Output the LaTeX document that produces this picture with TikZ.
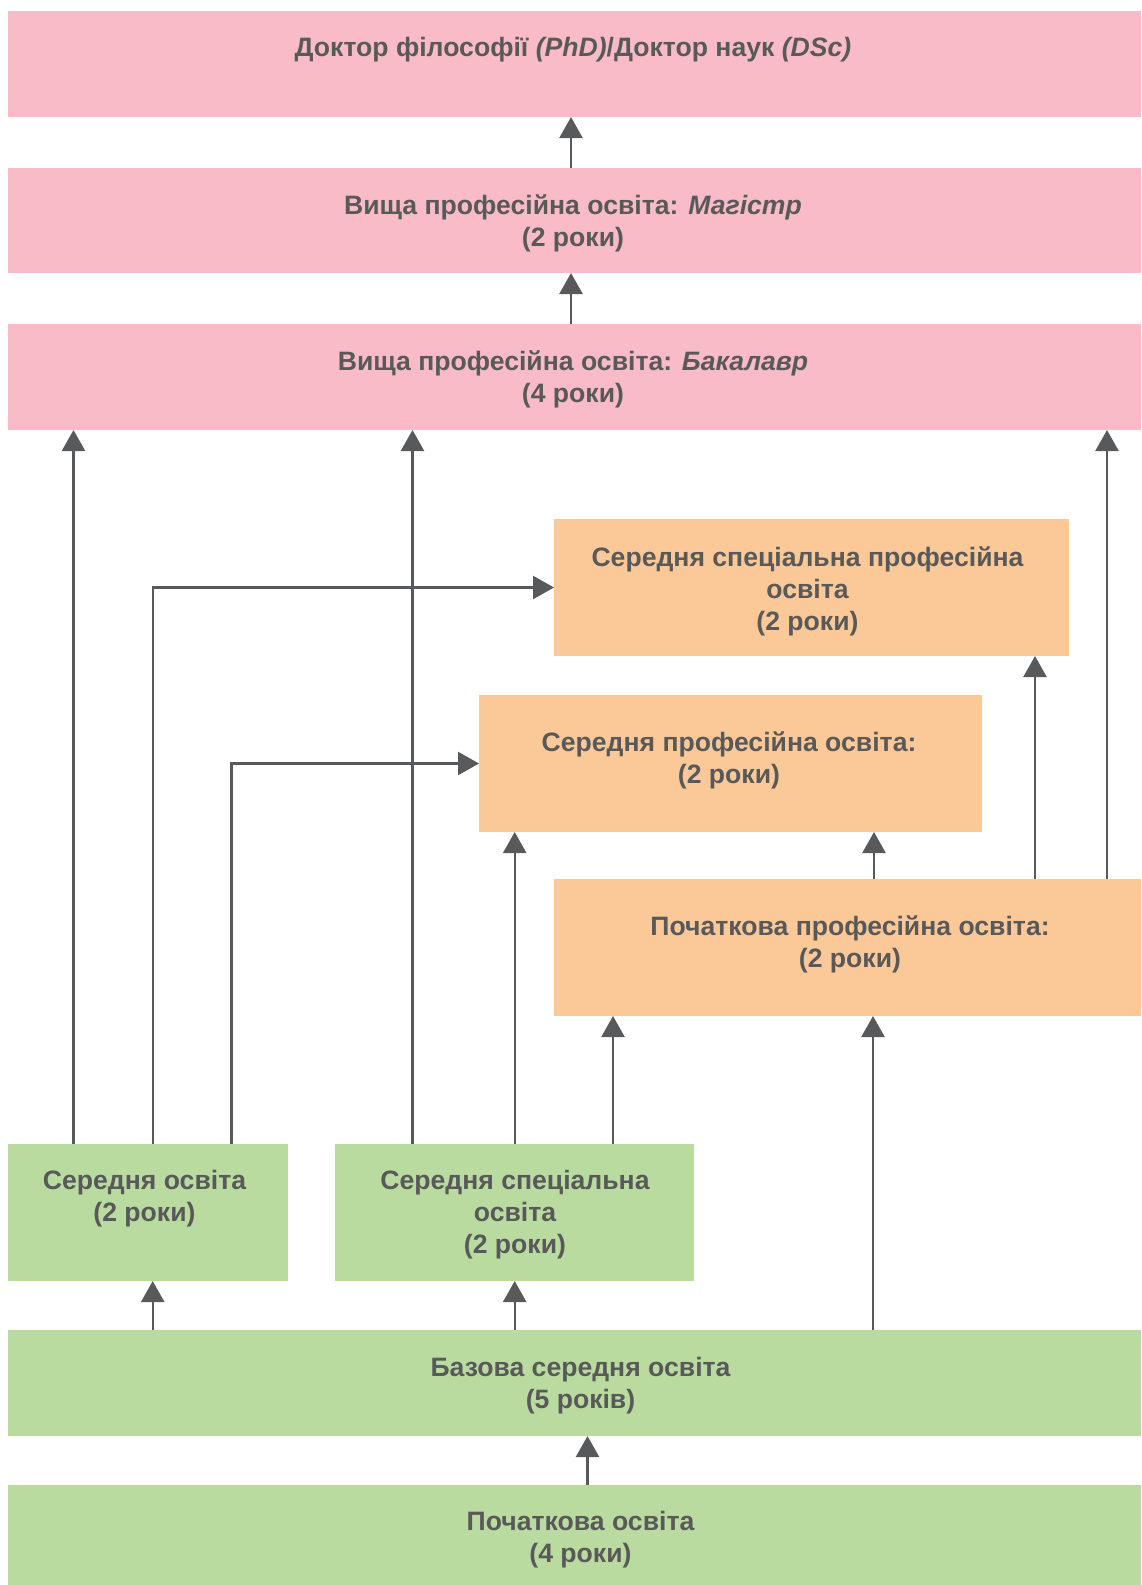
\documentclass[tikz,border=0pt]{standalone}
\usepackage{fontspec}
\setmainfont{Liberation Sans}
\usepackage{tikz}
\usetikzlibrary{arrows.meta,positioning}
\definecolor{rozh}{HTML}{F8BBC7}
\definecolor{pomar}{HTML}{FBC898}
\definecolor{zelen}{HTML}{B9DBA0}
\definecolor{siryi}{HTML}{58595B}
\definecolor{tekst}{HTML}{595959}
\tikzset{
  box/.style={anchor=north west,inner sep=0pt,outer sep=0pt},
  pinkbox/.style={box,fill=rozh},
  orangebox/.style={box,fill=pomar},
  greenbox/.style={box,fill=zelen},
  txt/.style={align=center,text=tekst,font=\fontsize{26.6}{31.8}\selectfont\bfseries},
  conn/.style={draw=siryi,line width=2.4pt,-{Triangle[length=21pt,width=23pt]}}
}
\begin{document}
\begin{tikzpicture}[x=1pt,y=-1pt]
\useasboundingbox (0,0) rectangle (1141,1585);

% higher education
\node[pinkbox,minimum width=1133pt,minimum height=106pt] (phd) at (8,11) {};
\node[pinkbox,minimum width=1133pt,minimum height=105pt] (mag) at (8,168) {};
\node[pinkbox,minimum width=1133pt,minimum height=106pt] (bach) at (8,324) {};
% vocational
\node[orangebox,minimum width=515pt,minimum height=137pt] (ssspo) at (554,519) {};
\node[orangebox,minimum width=503pt,minimum height=137pt] (spo) at (479,695) {};
\node[orangebox,minimum width=587pt,minimum height=137pt] (ppo) at (554,879) {};
% school
\node[greenbox,minimum width=280pt,minimum height=137pt] (sered) at (8,1144) {};
\node[greenbox,minimum width=359pt,minimum height=137pt] (sso) at (335,1144) {};
\node[greenbox,minimum width=1133pt,minimum height=106pt] (baz) at (8,1330) {};
\node[greenbox,minimum width=1133pt,minimum height=102pt] (poch) at (8,1485) {};

\node[txt] (phdt) at (573,50) {Доктор філософії \textit{(PhD)}/Доктор наук \textit{(DSc)}};
\node[txt] (magt) at (573,223) {Вища професійна освіта: \textit{Магістр}\\(2 роки)};
\node[txt] (bacht) at (573,379.5) {Вища професійна освіта: \textit{Бакалавр}\\(4 роки)};
\node[txt] (ssspot) at (807.5,591.5) {Середня спеціальна професійна\\освіта\\(2 роки)};
\node[txt] (spot) at (729,760.5) {Середня професійна освіта:\\(2 роки)};
\node[txt] (ppot) at (850,944.5) {Початкова професійна освіта:\\(2 роки)};
\node[txt] (seredt) at (144.5,1198.5) {Середня освіта\\(2 роки)};
\node[txt] (ssot) at (515,1214.5) {Середня спеціальна\\освіта\\(2 роки)};
\node[txt] (bazt) at (580.5,1386) {Базова середня освіта\\(5 років)};
\node[txt] (pocht) at (580.5,1539.5) {Початкова освіта\\(4 роки)};

% arrow feet
\coordinate (m1) at ([xshift=563pt]mag.north west);
\coordinate (b1) at ([xshift=563pt]bach.north west);
\coordinate (s1) at ([xshift=65.5pt]sered.north west);
\coordinate (s2) at ([xshift=145pt]sered.north west);
\coordinate (s3) at ([xshift=223.5pt]sered.north west);
\coordinate (o1) at ([xshift=77.5pt]sso.north west);
\coordinate (o2) at ([xshift=179.7pt]sso.north west);
\coordinate (o3) at ([xshift=278pt]sso.north west);
\coordinate (p1) at ([xshift=320pt]ppo.north west);
\coordinate (p2) at ([xshift=481pt]ppo.north west);
\coordinate (p3) at ([xshift=553pt]ppo.north west);
\coordinate (z1) at ([xshift=144.7pt]baz.north west);
\coordinate (z2) at ([xshift=506.7pt]baz.north west);
\coordinate (z3) at ([xshift=865pt]baz.north west);
\coordinate (c1) at ([xshift=579.5pt]poch.north west);

\draw[conn] (m1) -- (m1 |- phd.south);
\draw[conn] (b1) -- (b1 |- mag.south);
\draw[conn] (s1) -- (s1 |- bach.south);
\draw[conn] (s2) |- (ssspo.west); %to special vocational
\draw[conn] (s3) |- (spo.west); %to vocational
\draw[conn] (o1) -- (o1 |- bach.south);
\draw[conn] (o2) -- (o2 |- spo.south);
\draw[conn] (o3) -- (o3 |- ppo.south);
\draw[conn] (p1) -- (p1 |- spo.south);
\draw[conn] (p2) -- (p2 |- ssspo.south);
\draw[conn] (p3) -- (p3 |- bach.south);
\draw[conn] (z1) -- (z1 |- sered.south);
\draw[conn] (z2) -- (z2 |- sso.south);
\draw[conn] (z3) -- (z3 |- ppo.south);
\draw[conn] (c1) -- (c1 |- baz.south);
\end{tikzpicture}
\end{document}
